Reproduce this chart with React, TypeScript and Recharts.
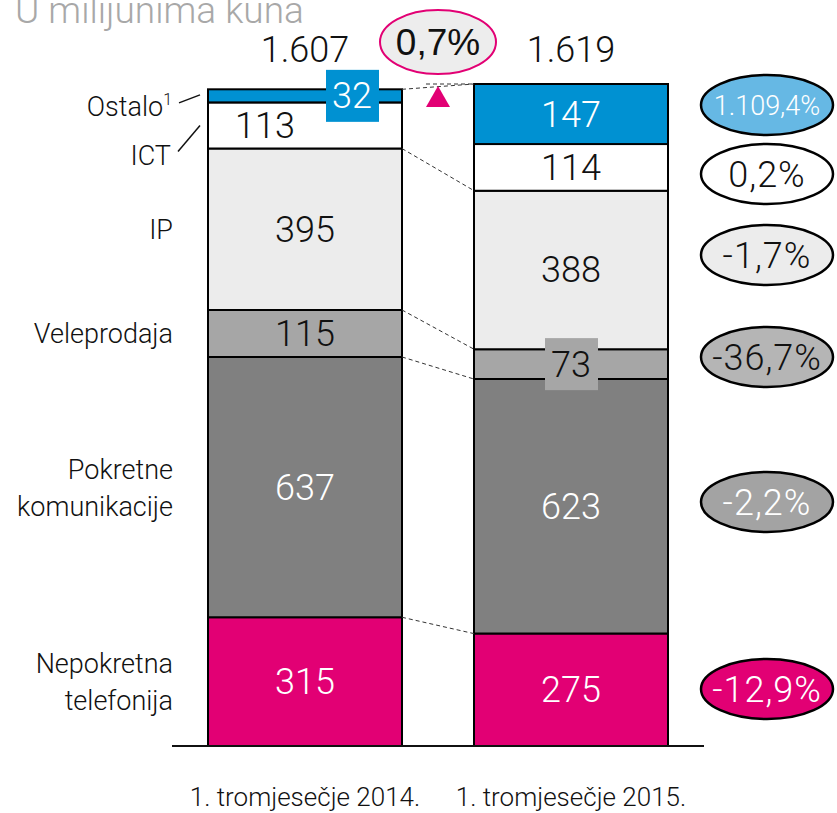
import React from "react";
import { Bar, BarChart, XAxis, YAxis } from "recharts";

// values in millions of kuna, bottom segment first
const CATEGORIES = ["1. tromjesečje 2014.", "1. tromjesečje 2015."];
const TOTAL_LABELS = ["1.607", "1.619"];
const FIXED = [315, 275];
const MOBILE = [637, 623];
const WHOLESALE = [115, 73];
const IP = [395, 388];
const ICT = [113, 114];
const OTHER = [32, 147];
const CHANGE_LABELS = ["-12,9%", "-2,2%", "-36,7%", "-1,7%", "0,2%", "1.109,4%"];
const TOTAL_CHANGE = "0,7%";
const SEGMENT_NAMES = [
  ["Nepokretna", "telefonija"],
  ["Pokretne", "komunikacije"],
  ["Veleprodaja"],
  ["IP"],
  ["ICT"],
  ["Ostalo"],
];

const KEYS = ["fixed", "mobile", "wholesale", "ip", "ict", "other"];
const SERIES = [FIXED, MOBILE, WHOLESALE, IP, ICT, OTHER];

const data = CATEGORIES.map((name, i) => {
  const row: Record<string, any> = { name };
  KEYS.forEach((k, j) => (row[k] = SERIES[j][i]));
  return row;
});

// layout / styling
const W = 837;
const H = 813;
const AXIS_H = 30;
const MARGIN = { top: 84, right: 133, bottom: 67 - AXIS_H, left: 172 };
const BAR = 194;
const BAND = (W - MARGIN.left - MARGIN.right) / CATEGORIES.length;
const GAP = BAND - BAR;
const FONT_TEXT = "Roboto, 'Liberation Sans', sans-serif";
const FONT_NUM = "Roboto, 'Liberation Sans', sans-serif";
const FONT_PCT = "'Liberation Sans', Arial, sans-serif";
const LIGHT = 300;
const FILL: Record<string, string> = {
  fixed: "#e20074",
  mobile: "#808080",
  wholesale: "#a6a6a6",
  ip: "#ececec",
  ict: "#ffffff",
  other: "#0091d2",
};
const LABEL_COLOR: Record<string, string> = {
  fixed: "#fff",
  mobile: "#fff",
  wholesale: "#111",
  ip: "#111",
  ict: "#111",
  other: "#fff",
};
const CHANGE_FILL = ["#e20074", "#a3a3a3", "#b5b5b5", "#ececec", "#ffffff", "#66b8e4"];
const CHANGE_TEXT = ["#fff", "#fff", "#111", "#111", "#111", "#fff"];
const CHANGE_Y = [689, 502, 357, 255, 174, 105];
const CHANGE_X = 767;
const TOTAL_Y = 62;

function TopShape(props: any) {
  const { x, y, width, height, payload, index } = props;
  const k = height / payload.other;
  const total = KEYS.reduce((s, key) => s + payload[key], 0);
  const base = y + total * k;
  const yAt = (v: number) => base - v * k;
  const cx = x + width / 2;

  const bounds: { key: string; lo: number; hi: number; cy: number }[] = [];
  let acc = 0;
  KEYS.forEach((key) => {
    const lo = acc;
    acc += payload[key];
    bounds.push({ key, lo, hi: acc, cy: (yAt(lo) + yAt(acc)) / 2 });
  });

  const segLabels = bounds.map((b, j) => {
    let lx = cx;
    let box: string | null = null;
    if (index === 0 && b.key === "ict") lx = cx - 40;
    if (index === 0 && b.key === "other") {
      lx = cx + 47;
      box = FILL.other;
    }
    if (index === 1 && b.key === "wholesale") box = FILL.wholesale;
    return (
      <g key={b.key}>
        {box && <rect x={lx - 26} y={b.cy - 26} width={53} height={52} fill={box} />}
        <text
          x={lx}
          y={b.cy + 12.5}
          textAnchor="middle"
          fontFamily={FONT_NUM}
          fontWeight={LIGHT}
          fontSize={36}
          fill={LABEL_COLOR[b.key]}
        >
          {SERIES[j][index]}
        </text>
      </g>
    );
  });

  const extra: React.ReactNode[] = [];
  if (index === 0) {
    bounds.forEach((b, j) => {
      const lines = SEGMENT_NAMES[j];
      if (b.key === "other") {
        extra.push(
          <g key="lab-other">
            <text x={172} y={b.cy + 20} textAnchor="end" fontFamily={FONT_TEXT} fontWeight={LIGHT} fontSize={27} fill="#111">
              {lines[0]}
              <tspan fontSize={16} dy={-11}>1</tspan>
            </text>
            <line x1={179} y1={b.cy + 7} x2={200} y2={b.cy - 1} stroke="#111" strokeWidth={1.5} />
          </g>
        );
      } else if (b.key === "ict") {
        extra.push(
          <g key="lab-ict">
            <text x={171} y={b.cy + 40} textAnchor="end" fontFamily={FONT_TEXT} fontWeight={LIGHT} fontSize={27} fill="#111">
              {lines[0]}
            </text>
            <line x1={178} y1={b.cy + 26} x2={200} y2={b.cy} stroke="#111" strokeWidth={1.5} />
          </g>
        );
      } else {
        const lh = 37;
        const first = b.cy - ((lines.length - 1) * lh) / 2 + 10;
        extra.push(
          <text key={"lab-" + b.key} textAnchor="end" fontFamily={FONT_TEXT} fontWeight={LIGHT} fontSize={27} fill="#111">
            {lines.map((t, li) => (
              <tspan key={li} x={173} y={first + li * lh}>
                {t}
              </tspan>
            ))}
          </text>
        );
      }
    });
  }

  if (index === 1) {
    const prevX = x - GAP;
    // connectors to previous bar
    const linkKeys = ["fixed", "mobile", "wholesale", "ip", "other"];
    linkKeys.forEach((key) => {
      const j = KEYS.indexOf(key);
      let c0 = 0;
      let c1 = 0;
      for (let m = 0; m <= j; m++) {
        c0 += SERIES[m][0];
        c1 += SERIES[m][1];
      }
      extra.push(
        <line
          key={"link-" + key}
          x1={prevX}
          y1={yAt(c0)}
          x2={x}
          y2={yAt(c1)}
          stroke="#333"
          strokeWidth={1}
          strokeDasharray="4 3"
        />
      );
    });
    extra.push(
      <line key="link-h" x1={x - 48} y1={y} x2={x} y2={y} stroke="#333" strokeWidth={1} strokeDasharray="4 3" />
    );
    const gx = x - GAP / 2;
    extra.push(
      <g key="tot-change">
        <ellipse cx={gx} cy={42} rx={58} ry={32} fill="#ededed" stroke="#e20074" strokeWidth={2} />
        <text x={gx} y={55} textAnchor="middle" fontFamily={FONT_PCT} fontSize={37} fill="#111">
          {TOTAL_CHANGE}
        </text>
        <polygon points={`${gx},${y + 2} ${gx - 12},${y + 23} ${gx + 12},${y + 23}`} fill="#e20074" />
      </g>
    );
    CHANGE_LABELS.forEach((t, j) => {
      const small = t.length > 6;
      extra.push(
        <g key={"chg-" + j}>
          <ellipse
            cx={CHANGE_X}
            cy={CHANGE_Y[j]}
            rx={66}
            ry={30}
            fill={CHANGE_FILL[j]}
            stroke="#000"
            strokeWidth={2.5}
          />
          <text
            x={CHANGE_X}
            y={CHANGE_Y[j] + (small ? 9.5 : 12.5)}
            textAnchor="middle"
            fontFamily={FONT_NUM}
            fontWeight={LIGHT}
            fontSize={small ? 27 : 36}
            letterSpacing={small ? 0 : 1}
            fill={CHANGE_TEXT[j]}
          >
            {t}
          </text>
        </g>
      );
    });
  }

  return (
    <g>
      <rect x={x} y={y} width={width} height={height} fill={FILL.other} stroke="#000" strokeWidth={2} />
      {segLabels}
      <text x={cx} y={TOTAL_Y} textAnchor="middle" fontFamily={FONT_NUM} fontWeight={LIGHT} fontSize={36} fill="#111">
        {TOTAL_LABELS[index]}
      </text>
      {extra}
    </g>
  );
}

function Tick(props: any) {
  const { x, y, payload } = props;
  return (
    <text x={x} y={y + 60} textAnchor="middle" fontFamily={FONT_TEXT} fontWeight={LIGHT} fontSize={26} fill="#111">
      {payload.value}
    </text>
  );
}

export default function App() {
  return (
    <div style={{ position: "absolute", left: 0, top: 0, width: W, height: H, background: "#fff", overflow: "hidden" }}>
      <BarChart width={W} height={H} data={data} margin={MARGIN} barSize={BAR}>
        <XAxis
          dataKey="name"
          height={AXIS_H}
          axisLine={{ stroke: "#111", strokeWidth: 2 }}
          tickLine={false}
          tickSize={0}
          tickMargin={0}
          tick={<Tick />}
          interval={0}
        />
        <YAxis hide domain={[0, 1619]} />
        {KEYS.slice(0, 5).map((key) => (
          <Bar
            key={key}
            dataKey={key}
            stackId="a"
            fill={FILL[key]}
            stroke="#000"
            strokeWidth={2}
            isAnimationActive={false}
          />
        ))}
        <Bar dataKey="other" stackId="a" fill={FILL.other} shape={<TopShape />} isAnimationActive={false} />
      </BarChart>
      <svg width={W} height={40} style={{ position: "absolute", left: 0, top: 0 }}>
        <text x={15} y={23} fontFamily={FONT_TEXT} fontWeight={LIGHT} fontSize={37} fill="#a8a8a8">
          U milijunima kuna
        </text>
      </svg>
    </div>
  );
}
